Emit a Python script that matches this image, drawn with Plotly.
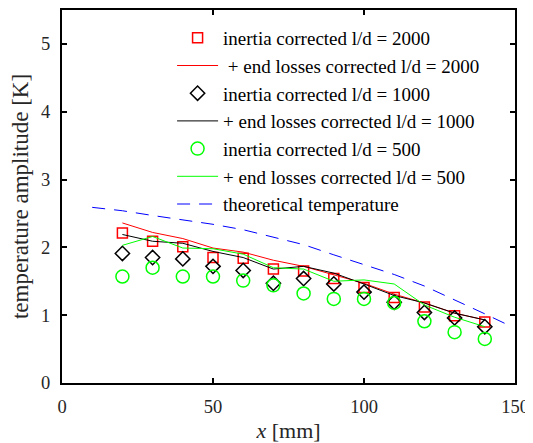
import plotly.graph_objects as go

x_pts = [20, 30, 40, 50, 60, 70, 80, 90, 100, 110, 120, 130, 140]

inertia_2000 = [2.21, 2.09, 2.01, 1.85, 1.84, 1.68, 1.65, 1.54, 1.41, 1.26, 1.12, 0.99, 0.90]
endloss_2000 = [2.36, 2.22, 2.13, 1.99, 1.93, 1.81, 1.72, 1.60, 1.47, 1.31, 1.18, 1.03, 0.93]
inertia_1000 = [1.91, 1.85, 1.83, 1.72, 1.66, 1.47, 1.54, 1.46, 1.34, 1.19, 1.04, 0.96, 0.83]
endloss_1000 = [2.19, 2.09, 2.06, 1.94, 1.85, 1.68, 1.72, 1.62, 1.46, 1.29, 1.18, 1.03, 0.93]
inertia_500 = [1.57, 1.70, 1.57, 1.57, 1.51, 1.44, 1.32, 1.24, 1.24, 1.18, 0.91, 0.75, 0.65]
endloss_500 = [2.03, 2.16, 1.99, 1.98, 1.90, 1.70, 1.68, 1.50, 1.52, 1.46, 1.15, 0.97, 0.83]

x_theory = [10, 20, 30, 40, 50, 60, 70, 80, 90, 100, 110, 120, 130, 140, 148]
theory = [2.59, 2.54, 2.47, 2.41, 2.34, 2.26, 2.15, 2.04, 1.89, 1.75, 1.60, 1.43, 1.23, 1.02, 0.85]

x_range = [0, 150]
y_range = [0, 5.5]
x_ticks = [0, 50, 100, 150]
y_ticks = [0, 1, 2, 3, 4, 5]

FONT = "Liberation Serif, Times New Roman, serif"
AX = "#000000"

# figure is 8px smaller than the window because of the page body margin
W, H = 525, 435
ML, MR, MT, MB = 54, 18, 2, 60
TICK = 5  # px

fig = go.Figure()
fig.add_trace(go.Scatter(x=x_pts, y=inertia_2000, mode="markers",
                         name="inertia corrected l/d = 2000",
                         marker=dict(symbol="square-open", size=10, color="#ff0000", line=dict(width=1.5))))
fig.add_trace(go.Scatter(x=x_pts, y=endloss_2000, mode="lines",
                         name="\u00a0+ end losses corrected l/d = 2000",
                         line=dict(color="#ff0000", width=1)))
fig.add_trace(go.Scatter(x=x_pts, y=inertia_1000, mode="markers",
                         name="inertia corrected l/d = 1000",
                         marker=dict(symbol="diamond-open", size=11, color="#000000", line=dict(width=1.5))))
fig.add_trace(go.Scatter(x=x_pts, y=endloss_1000, mode="lines",
                         name="+ end losses corrected l/d = 1000",
                         line=dict(color="#000000", width=1)))
fig.add_trace(go.Scatter(x=x_pts, y=inertia_500, mode="markers",
                         name="inertia corrected l/d = 500",
                         marker=dict(symbol="circle-open", size=13, color="#00ff00", line=dict(width=1.5))))
fig.add_trace(go.Scatter(x=x_pts, y=endloss_500, mode="lines",
                         name="+ end losses corrected l/d = 500",
                         line=dict(color="#00ff00", width=1)))
fig.add_trace(go.Scatter(x=x_theory, y=theory, mode="lines",
                         name="theoretical temperature",
                         line=dict(color="#0000ff", width=1, dash="13px,9px")))

fig.update_layout(
    template="none",
    width=W, height=H,
    margin=dict(l=ML, r=MR, t=MT, b=MB, autoexpand=False),
    paper_bgcolor="white", plot_bgcolor="white",
    font=dict(family=FONT, size=18, color="#262626"),
    showlegend=True,
    legend=dict(x=0.243, y=0.976, xanchor="left", yanchor="top",
                bgcolor="rgba(0,0,0,0)", borderwidth=0,
                font=dict(family=FONT, size=19, color="#000000"),
                itemwidth=41, tracegroupgap=0),
    xaxis=dict(range=x_range, tickvals=x_ticks, ticks="inside", ticklen=TICK, tickwidth=2,
               tickcolor=AX, showline=True, linecolor=AX, linewidth=2, mirror="allticks",
               showgrid=False, zeroline=False,
               title=dict(text="<i>x</i> [mm]", font=dict(size=22), standoff=10),
               tickfont=dict(size=18.5), ticklabelstandoff=6),
    yaxis=dict(range=y_range, tickvals=y_ticks, ticks="inside", ticklen=TICK, tickwidth=2,
               tickcolor=AX, showline=True, linecolor=AX, linewidth=2, mirror="allticks",
               showgrid=False, zeroline=False,
               title=dict(text="temperature amplitude [K]", font=dict(size=23), standoff=6),
               tickfont=dict(size=18.5), ticklabelstandoff=6),
)

fig.write_html("out.html")
